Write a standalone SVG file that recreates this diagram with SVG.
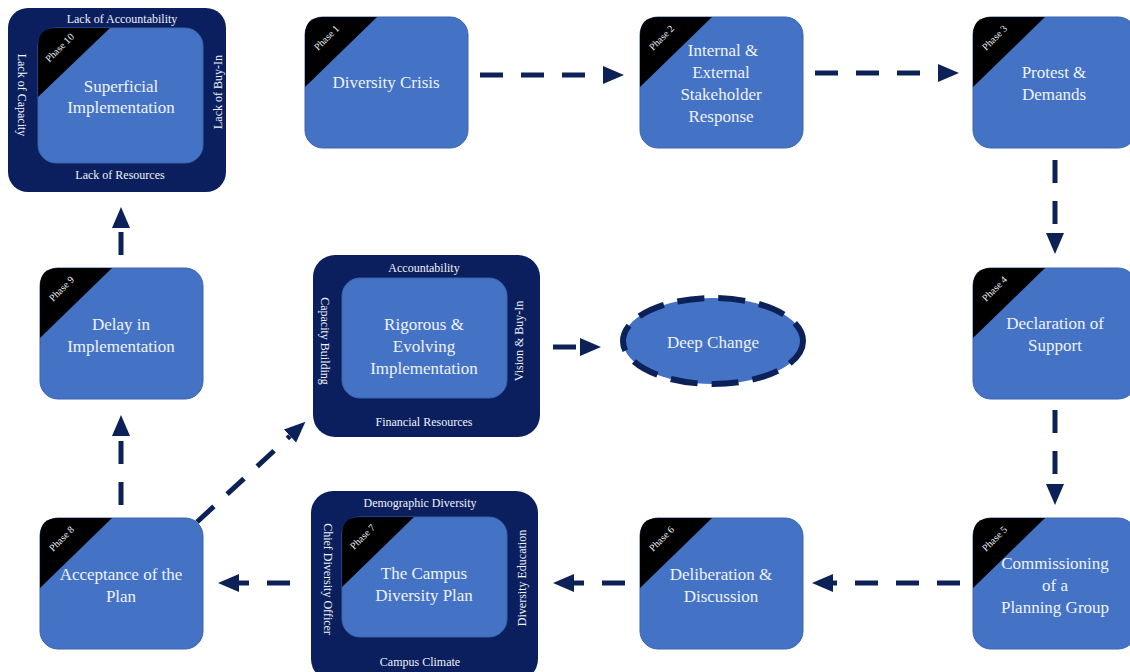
<svg xmlns="http://www.w3.org/2000/svg" width="1130" height="672" viewBox="0 0 1130 672" font-family="'Liberation Serif', 'DejaVu Serif', 'Times New Roman', serif">
<defs>
<style>
.box{fill:#4472c4;stroke:#3b64ae;stroke-width:1}
.ring{fill:#0b1f5e}
.tri{fill:#000}
text{font-family:'Liberation Serif','DejaVu Serif','Times New Roman',serif}
.t{font-size:17px;fill:#eef2fa;text-anchor:middle}
.r{font-size:12px;fill:#eef2fa;text-anchor:middle}
.p{font-size:10px;fill:#eef2fa;text-anchor:middle}
.c{stroke:#0c2157;stroke-width:5;fill:none;stroke-dasharray:23 18}
</style>
<marker id="ah" markerUnits="userSpaceOnUse" markerWidth="22" markerHeight="20" refX="0" refY="10" orient="auto">
<path d="M0,1 L21,10 L0,19 Z" fill="#0c2157"/>
</marker>
</defs>
<rect width="1130" height="672" fill="#fff"/>

<g id="connectors">
<line class="c" x1="480" y1="75" x2="603" y2="75" marker-end="url(#ah)"/>
<line class="c" x1="815" y1="73" x2="938" y2="73" marker-end="url(#ah)"/>
<line class="c" x1="1055" y1="160" x2="1055" y2="233" marker-end="url(#ah)"/>
<line class="c" x1="1055" y1="410" x2="1055" y2="484" marker-end="url(#ah)"/>
<line class="c" x1="960" y1="583" x2="833" y2="583" marker-end="url(#ah)"/>
<line class="c" x1="625" y1="583" x2="574" y2="583" marker-end="url(#ah)"/>
<line class="c" x1="290" y1="583" x2="239" y2="583" marker-end="url(#ah)"/>
<line class="c" x1="121" y1="505" x2="121" y2="436" marker-end="url(#ah)"/>
<line class="c" x1="121" y1="255" x2="121" y2="228" marker-end="url(#ah)"/>
<line class="c" x1="197" y1="522" x2="290" y2="436" marker-end="url(#ah)"/>
<line class="c" x1="553" y1="347" x2="580" y2="347" marker-end="url(#ah)"/>
</g>

<g id="phase10">
<rect class="ring" x="8" y="8" width="218" height="184" rx="20"/>
<rect class="box" x="38" y="28" width="165" height="135" rx="18"/>
<path class="tri" d="M38,46 Q38,28 56,28 L110,28 L38,97 Z"/>
<text class="p" transform="translate(62,50) rotate(-45)">Phase 10</text>
<text class="t" x="121" y="92">Superficial</text>
<text class="t" x="121" y="113">Implementation</text>
<text class="r" x="122" y="23">Lack of Accountability</text>
<text class="r" x="120" y="179">Lack of Resources</text>
<text class="r" transform="translate(18,95) rotate(90)">Lack of Capacity</text>
<text class="r" transform="translate(222,92) rotate(-90)">Lack of Buy-In</text>
</g>

<g id="phase1">
<rect class="box" x="305" y="17" width="163" height="131" rx="18"/>
<path class="tri" d="M305,35 Q305,17 323,17 L377,17 L305,87 Z"/>
<text class="p" transform="translate(329,40) rotate(-45)">Phase 1</text>
<text class="t" x="386" y="88">Diversity  Crisis</text>
</g>

<g id="phase2">
<rect class="box" x="640" y="17" width="163" height="131" rx="18"/>
<path class="tri" d="M640,35 Q640,17 658,17 L712,17 L640,87 Z"/>
<text class="p" transform="translate(664,40) rotate(-45)">Phase 2</text>
<text class="t" x="723" y="56">Internal  &amp;</text>
<text class="t" x="721" y="78">External</text>
<text class="t" x="721" y="100">Stakeholder</text>
<text class="t" x="721" y="122">Response</text>
</g>

<g id="phase3">
<rect class="box" x="973" y="17" width="163" height="131" rx="18"/>
<path class="tri" d="M973,35 Q973,17 991,17 L1045,17 L973,87 Z"/>
<text class="p" transform="translate(997,40) rotate(-45)">Phase 3</text>
<text class="t" x="1054" y="78">Protest &amp;</text>
<text class="t" x="1054" y="100">Demands</text>
</g>

<g id="phase4">
<rect class="box" x="973" y="268" width="163" height="131" rx="18"/>
<path class="tri" d="M973,286 Q973,268 991,268 L1045,268 L973,338 Z"/>
<text class="p" transform="translate(997,291) rotate(-45)">Phase 4</text>
<text class="t" x="1055" y="329">Declaration of</text>
<text class="t" x="1055" y="351">Support</text>
</g>

<g id="phase5">
<rect class="box" x="973" y="518" width="163" height="131" rx="18"/>
<path class="tri" d="M973,536 Q973,518 991,518 L1045,518 L973,588 Z"/>
<text class="p" transform="translate(997,541) rotate(-45)">Phase 5</text>
<text class="t" x="1055" y="569">Commissioning</text>
<text class="t" x="1055" y="591">of a</text>
<text class="t" x="1055" y="613">Planning  Group</text>
</g>

<g id="phase6">
<rect class="box" x="640" y="518" width="163" height="131" rx="18"/>
<path class="tri" d="M640,536 Q640,518 658,518 L712,518 L640,588 Z"/>
<text class="p" transform="translate(664,541) rotate(-45)">Phase 6</text>
<text class="t" x="721" y="580">Deliberation  &amp;</text>
<text class="t" x="721" y="602">Discussion</text>
</g>

<g id="phase7">
<rect class="ring" x="311" y="491" width="227" height="190" rx="22"/>
<rect class="box" x="342" y="517" width="165" height="120" rx="18"/>
<path class="tri" d="M342,535 Q342,517 360,517 L414,517 L342,587 Z"/>
<text class="p" transform="translate(365,539) rotate(-45)">Phase 7</text>
<text class="t" x="424" y="579">The Campus</text>
<text class="t" x="424" y="601">Diversity  Plan</text>
<text class="r" x="420" y="507">Demographic Diversity</text>
<text class="r" x="420" y="666">Campus Climate</text>
<text class="r" transform="translate(324,579) rotate(90)">Chief Diversity Officer</text>
<text class="r" transform="translate(526,578) rotate(-90)">Diversity Education</text>
</g>

<g id="phase8">
<rect class="box" x="40" y="518" width="163" height="131" rx="18"/>
<path class="tri" d="M40,536 Q40,518 58,518 L112,518 L40,588 Z"/>
<text class="p" transform="translate(64,541) rotate(-45)">Phase 8</text>
<text class="t" x="121" y="580">Acceptance of the</text>
<text class="t" x="121" y="602">Plan</text>
</g>

<g id="phase9">
<rect class="box" x="40" y="268" width="163" height="131" rx="18"/>
<path class="tri" d="M40,286 Q40,268 58,268 L112,268 L40,338 Z"/>
<text class="p" transform="translate(64,291) rotate(-45)">Phase 9</text>
<text class="t" x="121" y="330">Delay in</text>
<text class="t" x="121" y="352">Implementation</text>
</g>

<g id="rigorous">
<rect class="ring" x="313" y="255" width="227" height="182" rx="22"/>
<rect class="box" x="342" y="278" width="165" height="120" rx="18"/>
<text class="t" x="424" y="330">Rigorous &amp;</text>
<text class="t" x="424" y="352">Evolving</text>
<text class="t" x="424" y="374">Implementation</text>
<text class="r" x="424" y="272">Accountability</text>
<text class="r" x="424" y="426">Financial Resources</text>
<text class="r" transform="translate(321,341) rotate(90)">Capacity Building</text>
<text class="r" transform="translate(523,341) rotate(-90)">Vision &amp; Buy-In</text>
</g>

<g id="deepchange">
<ellipse cx="713" cy="341" rx="90" ry="43" fill="#4472c4" stroke="#0c2157" stroke-width="6" stroke-dasharray="27 14"/>
<text class="t" x="713" y="348">Deep Change</text>
</g>
</svg>
